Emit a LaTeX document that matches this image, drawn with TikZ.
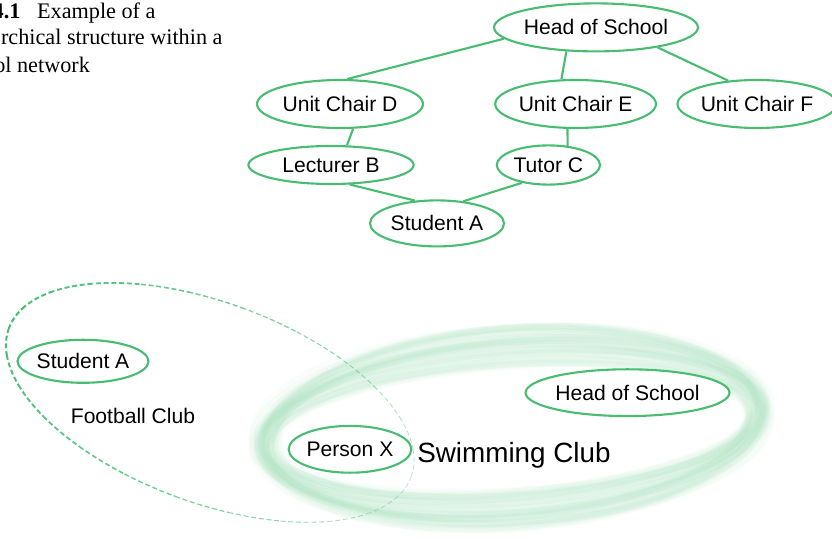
\documentclass[tikz,border=0pt]{standalone}
\usepackage{fontspec}
\setmainfont{Liberation Serif}
\setsansfont{Liberation Sans}
\usetikzlibrary{shapes.geometric}

\definecolor{netgreen}{RGB}{72,189,114}

\begin{document}
\begin{tikzpicture}[
    every node/.style={font=\fontsize{15}{18}\selectfont\sffamily},
    person/.style={ellipse, draw=netgreen, line width=1.5pt, fill=white, inner sep=0pt},
    link/.style={draw=netgreen, line width=1.5pt},
    swimstroke/.style={draw=netgreen!55!white, line width=5pt, opacity=0.05},
    clubdash/.style={draw=netgreen, dash pattern=on 3.5pt off 2pt}
  ]
        \useasboundingbox (0,0) rectangle (20.8,13.475);

        % caption, cut off at the left edge
        \node[anchor=base west, inner sep=0pt, font=\fontsize{15.8}{19}\selectfont\rmfamily] (cap1) at (-0.19,13.0) {\textbf{4.1}\hspace{0.75em}Example of a};
        \node[anchor=base west, inner sep=0pt, font=\fontsize{15.8}{19}\selectfont\rmfamily] (cap2) at (0.02,12.35) {rchical structure within a};
        \node[anchor=base west, inner sep=0pt, font=\fontsize{15.8}{19}\selectfont\rmfamily] (cap3) at (-0.15,11.66) {ol network};

        % hierarchy
        \node[person, minimum width=4.65cm, minimum height=1.2cm] (head) at (14.9,12.79) {Head of School};
        \node[person, minimum width=4.15cm, minimum height=1.2cm] (chairD) at (8.5,10.875) {Unit Chair D};
        \node[person, minimum width=3.93cm, minimum height=1.2cm] (chairE) at (14.39,10.875) {Unit Chair E};
        \node[person, minimum width=3.7cm, minimum height=1.2cm] (chairF) at (18.925,10.875) {Unit Chair F};
        \node[person, minimum width=4.13cm, minimum height=0.95cm] (lectB) at (8.275,9.35) {Lecturer B};
        \node[person, minimum width=2.58cm, minimum height=0.98cm] (tutorC) at (13.71,9.35) {Tutor C};
        \node[person, minimum width=3.35cm, minimum height=1.15cm] (studA) at (10.925,7.89) {Student A};

        \draw[link] (head.187) -- (chairD.74);
        \draw[link] (head.219) -- (chairE.120);
        \draw[link] (head.342) -- (chairF.141);
        \draw[link] (chairD.298) -- (lectB.51);
        \draw[link] (chairE.252) -- (tutorC.45);
        \draw[link] (lectB.314) -- (studA.134);
        \draw[link] (tutorC.214) -- (studA.40);

        % swimming club, brushed ring
        \pgfmathsetseed{7}
        \foreach \k in {1,...,48}{
          \pgfmathsetmacro{\ra}{6.18+0.3*rand}
          \pgfmathsetmacro{\rb}{2.05+0.5*rand}
          \pgfmathsetmacro{\rot}{4+1.5*rand}
          \pgfmathsetmacro{\dx}{0.08*rand}
          \pgfmathsetmacro{\dy}{0.08*rand}
          \draw[swimstroke, rotate around={\rot:(12.79,2.79)}] (12.79+\dx,2.79+\dy) ellipse[x radius=\ra, y radius=\rb];
        }

        % football club, dashed ring fading to the right
        \begin{scope}[shift={(5.25,3.41)}, rotate=-20.3]
          \foreach \ang in {0,15,...,345}{
            \pgfmathsetmacro{\w}{0.45+1.0*(1-cos(\ang+7.5))/2}
            \pgfmathsetmacro{\op}{0.45+0.55*(1-cos(\ang+7.5))/2}
            \draw[clubdash, line width=\w pt, draw opacity=\op] (\ang:5.36 and 2.5) arc[start angle=\ang, end angle=\ang+15, x radius=5.36, y radius=2.5];
          }
        \end{scope}

        % members
        \node[person, minimum width=3.175cm, minimum height=1.075cm] (studA2) at (2.075,4.4425) {Student A};
        \node[person, minimum width=2.95cm, minimum height=1.17cm] (personX) at (8.75,2.2425) {Person X};
        \node[person, minimum width=4.45cm, minimum height=1.17cm] (head2) at (15.6875,3.6575) {Head of School};

        \node[anchor=base] (football) at (3.325,2.875) {Football Club};
        \node[anchor=base, font=\fontsize{19.8}{24}\selectfont\sffamily] (swimming) at (12.85,1.9125) {Swimming Club};
      \end{tikzpicture}
\end{document}
